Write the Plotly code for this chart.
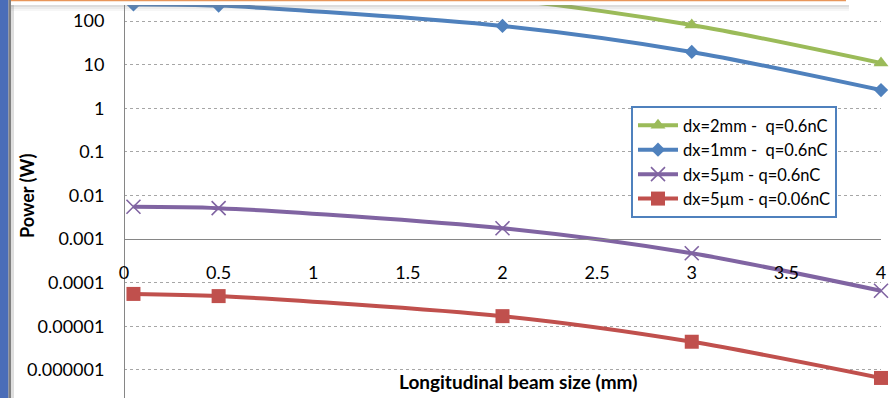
import plotly.graph_objects as go

# ---- data ----
x_mm = [0.05, 0.5, 2, 3, 4]
series_names = ["dx=2mm -\u00a0 q=0.6nC", "dx=1mm -\u00a0 q=0.6nC", "dx=5µm - q=0.6nC", "dx=5µm - q=0.06nC"]
p_2mm_06 = [1000, 940, 320, 81, 10.9]
p_1mm_06 = [240, 226, 77, 19.5, 2.6]
p_5um_06 = [0.0055, 0.0051, 0.00176, 0.00047, 6.5e-5]
p_5um_006 = [5.5e-5, 4.9e-5, 1.7e-5, 4.4e-6, 6.5e-7]
y_tickvals = [100, 10, 1, 0.1, 0.01, 0.001, 0.0001, 0.00001, 0.000001]
y_ticktext = ["100", "10", "1", "0.1", "0.01", "0.001", "0.0001", "0.00001", "0.000001"]
x_tickvals = [0, 0.5, 1, 1.5, 2, 2.5, 3, 3.5, 4]
x_ticktext = ["0", "0.5", "1", "1.5", "2", "2.5", "3", "3.5", "4"]

W, H = 893, 398
FONT = "Lato"

def px_x(v):
    return v / W

def px_y(v):
    return 1 - v / H

fig = go.Figure()
styles = [
    dict(color="#9BBB59", marker=dict(symbol="triangle-up", size=13, color="#9BBB59")),
    dict(color="#4F81BD", marker=dict(symbol="diamond", size=11, color="#4F81BD")),
    dict(color="#8064A2", marker=dict(symbol="x-thin", size=14, color="#8064A2",
                                      line=dict(width=1.6, color="#8064A2"))),
    dict(color="#C0504D", marker=dict(symbol="square", size=14, color="#C0504D")),
]
for name, ys, st in zip(series_names, [p_2mm_06, p_1mm_06, p_5um_06, p_5um_006], styles):
    fig.add_trace(go.Scatter(
        x=x_mm, y=ys, name=name, mode="lines+markers",
        line=dict(color=st["color"], width=4, shape="spline", smoothing=0.8),
        marker=st["marker"], cliponaxis=False,
    ))

fig.update_layout(
    width=W, height=H,
    margin=dict(l=0, r=0, t=0, b=0),
    paper_bgcolor="white", plot_bgcolor="white",
    font=dict(family=FONT, color="#000000", size=18),
    showlegend=True,
    legend=dict(
        x=px_x(631), y=px_y(106), xanchor="left", yanchor="top",
        bgcolor="white", bordercolor="#4F81BD", borderwidth=2,
        font=dict(family=FONT, size=16.5, color="#000000"),
        itemwidth=40, tracegroupgap=0,
    ),
    xaxis=dict(
        domain=[px_x(124), px_x(881)], range=[0, 4],
        anchor="free", position=(H - 239) / H,
        showline=True, linecolor="#868686", linewidth=1,
        showgrid=False, zeroline=False, ticks="",
        tickvals=x_tickvals, ticktext=x_ticktext,
        tickfont=dict(family=FONT, size=18, color="#000000"),
        ticklabelstandoff=17, automargin=False,
    ),
    yaxis=dict(
        type="log", domain=[0, 1], range=[-6.647, 2.482],
        anchor="free", position=px_x(124),
        showline=True, linecolor="#868686", linewidth=1,
        showgrid=True, gridcolor="#A6A6A6", gridwidth=1, griddash="dot",
        zeroline=False, ticks="",
        tickvals=y_tickvals, ticktext=y_ticktext,
        tickfont=dict(family=FONT, size=18, color="#000000"),
        ticklabelstandoff=16, automargin=False,
    ),
    annotations=[
        dict(text="<b>Power (W)</b>", xref="paper", yref="paper",
             x=px_x(27), y=px_y(196), textangle=-90, showarrow=False,
             font=dict(family=FONT, size=18, color="#000000"),
             xanchor="center", yanchor="middle"),
        dict(text="<b>Longitudinal beam size (mm)</b>", xref="paper", yref="paper",
             x=px_x(518), y=px_y(381), showarrow=False,
             font=dict(family=FONT, size=19, color="#000000"),
             xanchor="center", yanchor="middle"),
    ],
)

shapes = []
# left slide edge decoration
shapes.append(dict(type="rect", xref="paper", yref="paper", x0=0, x1=px_x(8.5),
                   y0=0, y1=1, fillcolor="#4A6DB8", line=dict(width=0), layer="above"))
shapes.append(dict(type="rect", xref="paper", yref="paper", x0=px_x(8.5), x1=px_x(11),
                   y0=0, y1=1, fillcolor="#7F7F7F", line=dict(width=0), layer="above"))
shapes.append(dict(type="rect", xref="paper", yref="paper", x0=px_x(11), x1=px_x(14),
                   y0=0, y1=1, fillcolor="#C8C8C8", opacity=0.6, line=dict(width=0), layer="above"))
# top overlay (window edge with shadow)
for y0, y1, op in [(5, 7, 0.28), (7, 9, 0.16), (9, 11, 0.07)]:
    shapes.append(dict(type="rect", xref="paper", yref="paper", x0=px_x(11), x1=px_x(849),
                       y0=px_y(y1), y1=px_y(y0), fillcolor="#808080", opacity=op,
                       line=dict(width=0), layer="above"))
shapes.append(dict(type="rect", xref="paper", yref="paper", x0=px_x(11), x1=px_x(846),
                   y0=px_y(5), y1=1, fillcolor="white", line=dict(width=0), layer="above"))
shapes.append(dict(type="rect", xref="paper", yref="paper", x0=px_x(11), x1=px_x(846),
                   y0=px_y(1.3), y1=1, fillcolor="#E8965A", line=dict(width=0), layer="above"))
fig.update_layout(shapes=shapes)

fig.write_html(
    "out.html",
    config={"displayModeBar": False},
    post_script="document.body.style.margin='0px';document.body.style.overflow='hidden';",
)
